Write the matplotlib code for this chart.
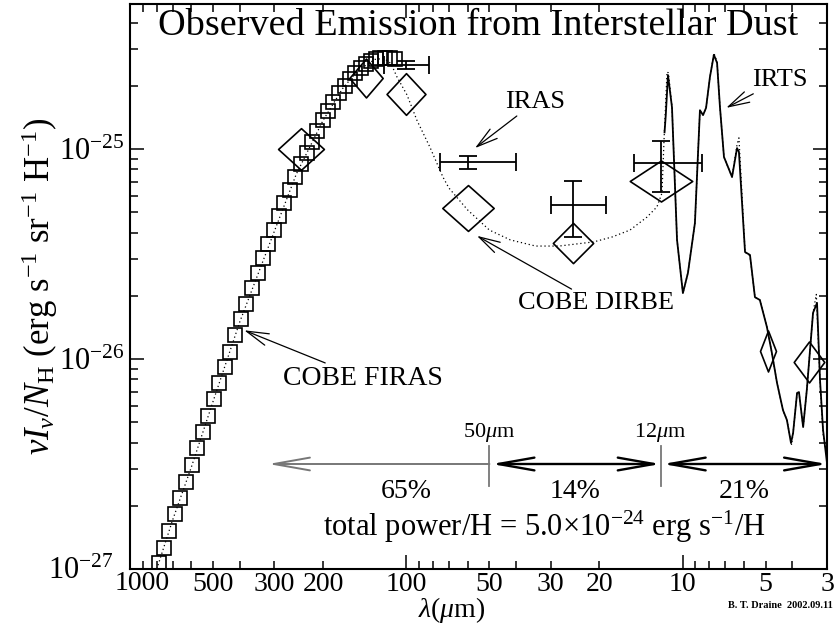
import numpy as np
import matplotlib
matplotlib.use('Agg')
import matplotlib.pyplot as plt
from matplotlib.path import Path
from matplotlib.ticker import LogLocator, FuncFormatter, NullFormatter
from matplotlib.transforms import blended_transform_factory, offset_copy

plt.rcParams['font.family'] = ['Liberation Serif', 'DejaVu Serif']
plt.rcParams['mathtext.fontset'] = 'custom'
plt.rcParams['mathtext.rm'] = 'Liberation Serif'
plt.rcParams['mathtext.it'] = 'Liberation Serif:italic'
plt.rcParams['mathtext.bf'] = 'Liberation Serif:bold'

# ---------------- data ----------------
# COBE FIRAS (wavelength in micron, nu I_nu / N_H)
firas_lam = [785, 753, 722, 687, 659, 627, 596, 572, 544, 522, 497, 476, 453, 435,
             417, 397, 380, 362, 344, 330, 317, 301, 289, 277, 264, 253, 240, 229,
             219, 210, 200, 192, 184, 175, 167, 160, 153, 146, 140, 134, 129, 124,
             119.4, 114.5, 109.9]
firas_val = [1.07e-27, 1.26e-27, 1.52e-27, 1.83e-27, 2.18e-27, 2.60e-27, 3.13e-27,
             3.77e-27, 4.49e-27, 5.35e-27, 6.45e-27, 7.69e-27, 9.16e-27, 1.08e-26,
             1.30e-26, 1.55e-26, 1.83e-26, 2.18e-26, 2.57e-26, 3.03e-26, 3.53e-26,
             4.11e-26, 4.80e-26, 5.53e-26, 6.38e-26, 7.36e-26, 8.49e-26, 9.57e-26,
             1.08e-25, 1.22e-25, 1.37e-25, 1.52e-25, 1.67e-25, 1.85e-25, 2.00e-25,
             2.15e-25, 2.30e-25, 2.43e-25, 2.54e-25, 2.62e-25, 2.68e-25, 2.71e-25,
             2.71e-25, 2.71e-25, 2.68e-25]

# COBE DIRBE bands
dirbe_lam = [240, 140, 100, 60, 25, 12, 4.9, 3.5]
dirbe_val = [9.97e-26, 2.19e-25, 1.83e-25, 5.24e-26, 3.55e-26, 7.04e-26, 1.09e-26, 9.66e-27]

# IRAS bands
iras_lam = [100, 60, 25, 12]
iras_val = [2.51e-25, 8.67e-26, 5.41e-26, 8.60e-26]
iras_lam_short = [83, 40, 19, 8.5]
iras_lam_long = [120, 75.5, 30, 15]
iras_val_low = [2.40e-25, 8.00e-26, 3.81e-26, 6.26e-26]
iras_val_high = [2.63e-25, 9.30e-26, 7.04e-26, 1.095e-25]

# IRTS spectrum
irts_lam = [11.62, 11.50, 11.29, 10.92, 10.47, 9.97, 9.56, 9.02, 8.65, 8.43, 8.22,
            7.96, 7.70, 7.50, 7.32, 7.08, 6.62, 6.35, 6.25, 5.94, 5.70, 5.47, 5.25,
            4.95, 4.75, 4.55, 4.33, 4.19, 4.05, 3.98, 3.85, 3.79, 3.66, 3.55, 3.37,
            3.26, 3.18, 3.10, 3.00]
irts_val = [1.20e-25, 1.45e-25, 2.25e-25, 1.58e-25, 3.69e-26, 2.06e-26, 2.57e-26,
            4.44e-26, 1.53e-25, 1.45e-25, 1.57e-25, 2.20e-25, 2.81e-25, 2.57e-25,
            1.58e-25, 9.16e-26, 7.36e-26, 1.01e-25, 9.68e-26, 3.23e-26, 3.13e-26,
            1.97e-26, 1.91e-26, 1.42e-26, 1.07e-26, 7.69e-27, 5.71e-27, 5.12e-27,
            3.98e-27, 4.44e-27, 6.89e-27, 6.96e-27, 4.74e-27, 7.11e-27, 1.66e-26,
            1.85e-26, 7.94e-27, 4.59e-27, 3.20e-27]

# dust model (dotted curve)
model_lam = [800, 700, 600, 500, 400, 300, 250, 200, 170, 150, 130, 120, 113.6, 108,
             99.4, 91.5, 82.1, 73.7, 70.1, 60, 50, 42, 34, 28, 21, 18, 15.5, 13.45,
             12.38, 11.87, 11.67, 11.38, 11.25, 10.92, 10.47, 9.97, 9.56, 9.02, 8.65,
             8.43, 8.22, 7.96, 7.70, 7.50, 7.32, 7.08, 6.62, 6.35, 6.25, 5.94, 5.70,
             5.47, 5.25, 4.95, 4.75, 4.55, 4.33, 4.19, 4.03, 3.98, 3.85, 3.79, 3.66,
             3.55, 3.37, 3.28, 3.18, 3.10, 3.00]
model_val = [1.00e-27, 1.72e-27, 3.05e-27, 6.30e-27, 1.51e-26, 4.07e-26, 7.60e-26,
             1.37e-25, 1.94e-25, 2.36e-25, 2.67e-25, 2.70e-25, 2.55e-25, 2.20e-25,
             1.81e-25, 1.37e-25, 1.02e-25, 7.36e-26, 6.52e-26, 5.13e-26, 4.11e-26,
             3.69e-26, 3.45e-26, 3.45e-26, 3.61e-26, 3.81e-26, 4.11e-26, 4.74e-26,
             5.30e-26, 6.17e-26, 1.10e-25, 2.33e-25, 2.30e-25, 1.60e-25, 3.69e-26,
             2.06e-26, 2.57e-26, 4.44e-26, 1.53e-25, 1.45e-25, 1.57e-25, 2.20e-25,
             2.86e-25, 2.60e-25, 1.58e-25, 9.16e-26, 7.36e-26, 1.05e-25, 1.13e-25,
             3.23e-26, 3.10e-26, 1.97e-26, 1.91e-26, 1.42e-26, 1.07e-26, 7.69e-27,
             5.71e-27, 5.12e-27, 3.90e-27, 4.44e-27, 6.89e-27, 6.96e-27, 4.74e-27,
             7.11e-27, 1.66e-26, 2.03e-26, 7.94e-27, 4.40e-27, 3.40e-27]

# power fractions
split_lam = [50, 12]
split_labels = [r'50$\mu$m', r'12$\mu$m']
power_lam_edges = [316, 50, 12, 3]
power_pct = ['65%', '14%', '21%']

x_labeled = [500, 300, 200, 100, 50, 30, 20, 10, 5, 3]

# ---------------- styles ----------------
pct_label_lam = [100, 24.5, 6.0]
# diamond marker shapes (width, height in points)
dia_w = [33, 24, 28, 37, 29, 45, 11.5, 22]
dia_h = [30, 28, 30, 33, 29, 29.5, 29.5, 29.5]

# ---------------- figure ----------------
W, H = 835, 624
fig = plt.figure(figsize=(W / 100, H / 100), dpi=100)
ax = fig.add_axes([130 / W, 1 - 569 / H, 697 / W, 565 / H])
ax.set_xscale('log')
ax.set_yscale('log')
ax.set_xlim(1000, 3)
ax.set_ylim(1e-27, 10 ** (-25 + 145 / 210))

# model curve (dotted)
ax.plot(model_lam, model_val, ls=(0, (1, 2.2)), lw=0.9, color='k', zorder=2)
# IRTS spectrum
ax.plot(irts_lam, irts_val, ls='-', lw=1.3, color='k', zorder=3)
# FIRAS squares
ax.plot(firas_lam, firas_val, ls='none', marker='s', ms=10, mfc='none', mec='k',
        mew=1.2, zorder=4)
# DIRBE diamonds
for lam, val, w, h in zip(dirbe_lam, dirbe_val, dia_w, dia_h):
    p = Path([(-w / 2, 0), (0, h / 2), (w / 2, 0), (0, -h / 2), (-w / 2, 0)],
             [Path.MOVETO, Path.LINETO, Path.LINETO, Path.LINETO, Path.CLOSEPOLY])
    ax.plot([lam], [val], ls='none', marker=p, ms=max(w, h), mfc='none', mec='k',
            mew=1.2, zorder=4)
# IRAS error bars
iras_lam_a = np.array(iras_lam)
iras_val_a = np.array(iras_val)
xerr = [iras_lam_a - np.array(iras_lam_short), np.array(iras_lam_long) - iras_lam_a]
yerr = [iras_val_a - np.array(iras_val_low), np.array(iras_val_high) - iras_val_a]
ax.errorbar(iras_lam, iras_val, xerr=xerr, yerr=yerr, fmt='none', ecolor='k',
            elinewidth=1.3, capsize=6.8, capthick=1.3, zorder=5)

# ticks
def xfmt(v, p):
    r = round(v)
    if abs(v - r) < 1e-6 and int(r) in x_labeled:
        return f'{int(r)}'
    return ''

ax.xaxis.set_major_locator(LogLocator(base=10, numticks=10))
ax.xaxis.set_minor_locator(LogLocator(base=10, subs=np.arange(2, 10), numticks=20))
ax.xaxis.set_major_formatter(FuncFormatter(xfmt))
ax.xaxis.set_minor_formatter(FuncFormatter(xfmt))

def yfmt(v, p):
    e = int(round(np.log10(v)))
    if e <= -27 or e >= -24:
        return ''
    return r'$10^{%d}$' % e

ax.yaxis.set_major_locator(LogLocator(base=10, numticks=10))
ax.yaxis.set_minor_locator(LogLocator(base=10, subs=np.arange(2, 10), numticks=20))
ax.yaxis.set_major_formatter(FuncFormatter(yfmt))
ax.yaxis.set_minor_formatter(NullFormatter())
ax.tick_params(which='both', direction='in', top=True, right=True, width=1.1, colors='k')
ax.tick_params(which='major', length=10)
ax.tick_params(which='minor', length=5.5)
ax.tick_params(axis='x', which='both', labelsize=20, pad=2)
ax.tick_params(axis='y', which='both', labelsize=22, pad=4)
for s in ax.spines.values():
    s.set_linewidth(1.5)

# corner tick labels (shifted as in the reference)
tr_x = blended_transform_factory(ax.transData, ax.transAxes)
tr_y = blended_transform_factory(ax.transAxes, ax.transData)
ax.text(1000, 0, '1000', transform=offset_copy(tr_x, fig, x=-15, y=-2, units='dots'),
        ha='left', va='top', fontsize=20, clip_on=False)
ax.text(0, 1e-27, r'$10^{-27}$', transform=offset_copy(tr_y, fig, x=-17, y=-2, units='dots'),
        ha='right', va='center', fontsize=22, clip_on=False)

ax.set_xlabel(r'$\lambda$($\mu$m)', fontsize=20)
ax.xaxis.set_label_coords(0.462, -0.046)
ax.set_ylabel(r'$\nu I_\nu/N_{\rm H}$ (erg s$^{-1}$ sr$^{-1}$ H$^{-1}$)', fontsize=25)
ax.yaxis.set_label_coords(-0.10, 0.50)

# title
ax.text(0.499, 0.962, 'Observed Emission from Interstellar Dust', transform=ax.transAxes,
        ha='center', va='center', fontsize=27.5)

# labels with arrows
arrow_kw = dict(arrowstyle='->,head_length=0.8,head_width=0.22', color='k', lw=0.9,
                shrinkA=0, shrinkB=0)
ax.annotate('IRAS', xy=(56.4, 1.01e-25), xytext=(44.0, 1.67e-25), ha='left', va='center',
            fontsize=19, arrowprops=arrow_kw)
ax.annotate('IRTS', xy=(6.95, 1.57e-25), xytext=(5.6, 2.13e-25), ha='left', va='center',
            fontsize=19, arrowprops=arrow_kw)
ax.annotate('COBE DIRBE', xy=(55.5, 3.86e-26), xytext=(39.4, 1.85e-26), ha='left',
            va='center', fontsize=19, arrowprops=arrow_kw)
ax.annotate('COBE FIRAS', xy=(386, 1.37e-26), xytext=(279, 8.1e-27), ha='left',
            va='center', fontsize=20, arrowprops=arrow_kw)

# power fraction bands
y_arr = (569 - 464) / 565
for lam, lab in zip(split_lam, split_labels):
    ax.plot([lam, lam], [(569 - 486) / 565, (569 - 446) / 565], transform=tr_x,
            color='#777777', lw=1.3)
    ax.text(lam, (569 - 433) / 565, lab, transform=tr_x, ha='center', va='center',
            fontsize=16)
ax.annotate('', xy=(power_lam_edges[0], y_arr), xytext=(power_lam_edges[1], y_arr),
            xycoords=tr_x, textcoords=tr_x,
            arrowprops=dict(arrowstyle='->,head_length=26,head_width=4.6',
                            mutation_scale=1, color='#777777', lw=1.4,
                            shrinkA=0, shrinkB=0))
for a, b in zip(power_lam_edges[1:-1], power_lam_edges[2:]):
    ax.annotate('', xy=(b, y_arr), xytext=(a, y_arr), xycoords=tr_x, textcoords=tr_x,
                arrowprops=dict(arrowstyle='<->,head_length=26,head_width=4.6',
                                mutation_scale=1, color='k', lw=1.7,
                                shrinkA=1.5, shrinkB=0))
for lam, lab in zip(pct_label_lam, power_pct):
    ax.text(lam, (569 - 492) / 565, lab, transform=tr_x, ha='center',
            va='center', fontsize=20)
ax.text(0.595, (569 - 527) / 565,
        r'total power/H = 5.0$\times$10$^{-24}$ erg s$^{-1}$/H',
        transform=ax.transAxes, ha='center', va='center', fontsize=22)

fig.text(0.998, 1 - 605 / H, 'B. T. Draine  2002.09.11', ha='right', va='center',
         fontsize=7.5, fontweight='bold', family='Liberation Serif')

fig.savefig('out.png', dpi=100)
